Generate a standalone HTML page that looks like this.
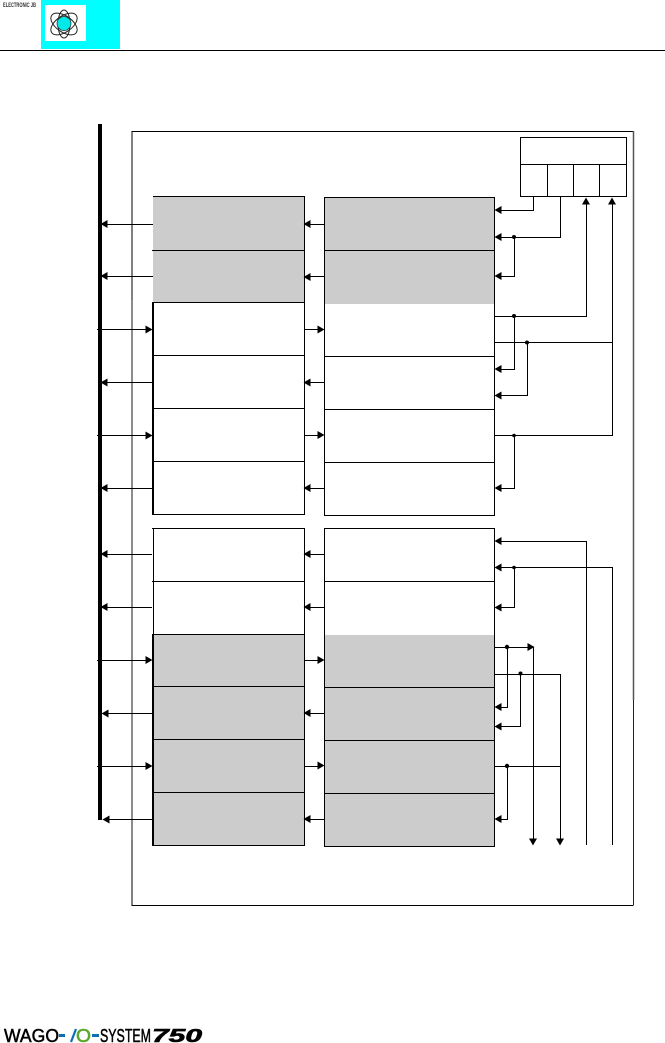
<!DOCTYPE html>
<html>
<head>
<meta charset="utf-8">
<style>
html,body{margin:0;padding:0;background:#fff;width:665px;height:1043px;overflow:hidden}
svg{display:block}
text{font-family:"Liberation Sans",sans-serif}
</style>
</head>
<body>
<svg width="665" height="1043" viewBox="0 0 665 1043" xmlns="http://www.w3.org/2000/svg">
<defs>
<polygon id="L" points="-0.5,0 6.5,-4 6.5,4" fill="#000"/>
<polygon id="R" points="0.5,0 -6.5,-4 -6.5,4" fill="#000"/>
<polygon id="U" points="0,-0.5 -4,6.5 4,6.5" fill="#000"/>
<polygon id="D" points="0,0.5 -4,-6.5 4,-6.5" fill="#000"/>
</defs>
<!-- header -->
<rect x="41" y="0" width="79" height="49" fill="#00ffff"/>
<rect x="45" y="5" width="41" height="36" fill="#fff"/>
<g fill="none" stroke="#222" stroke-width="1">
<ellipse cx="64" cy="24" rx="15" ry="8" transform="rotate(35 64 24)"/>
<ellipse cx="64" cy="24" rx="15" ry="8" transform="rotate(-35 64 24)"/>
<ellipse cx="64" cy="24" rx="6" ry="14"/>
</g>
<circle cx="64" cy="23.5" r="7" fill="#00e8e8" stroke="#222" stroke-width="0.7"/>
<text x="3" y="7" font-size="6.5" font-weight="bold" fill="#333" textLength="33" lengthAdjust="spacingAndGlyphs">ELECTRONIC JB</text>
<rect x="0" y="50" width="665" height="1" fill="#000"/>

<!-- gray fills -->
<g fill="#cccccc">
<rect x="153" y="196" width="151" height="106"/>
<rect x="324" y="197" width="171" height="107"/>
<rect x="153" y="634" width="151" height="212"/>
<rect x="324" y="635" width="171" height="211"/>
</g>

<!-- bus and frame -->
<rect x="98" y="124" width="4" height="696" fill="#000"/>
<g fill="none">
<path d="M132 300V131.5H633" stroke="#000" stroke-width="1"/>
<path d="M132 300V840" stroke="#666" stroke-width="1.5"/>
<path d="M132 840V905.5H633.5" stroke="#000" stroke-width="1"/>
<path d="M633.5 131V700" stroke="#555" stroke-width="1.5"/>
<path d="M633.5 700V905" stroke="#222" stroke-width="1"/>
</g>

<g stroke="#000" stroke-width="1" fill="none" shape-rendering="crispEdges">
<!-- left column upper -->
<path d="M153 196.5H305M152 250.5H305M152 302.5H305M153 355.5H305M153 408.5H305M153 461.5H305M152 514.5H305"/>
<path d="M304.5 196V515"/>
<!-- left column lower -->
<path d="M152 528.5H305M152 581.5H305M152 634.5H305M153 686.5H305M153 739.5H305M153 792.5H305M152 845.5H305"/>
<path d="M304.5 528V846M153.5 528V634"/>
<!-- right column upper -->
<path d="M324 197.5H495M324 250.5H495M324 356.5H495M324 409.5H495M324 462.5H495M324 515.5H495"/>
<path d="M324.5 197V516M494.5 197V516"/>
<!-- right column lower -->
<path d="M324 528.5H495M324 581.5H495M324 687.5H495M324 740.5H495M324 793.5H495M324 846.5H495"/>
<path d="M324.5 528V847M494.5 528V847"/>
<!-- top right box -->
<path d="M520.5 137V197M626.5 137V197M520 137.5H627M520 164.5H627M520 196.5H627M547.5 165V196M573.5 165V196M599.5 165V196"/>

<!-- inter-column lines -->
<path d="M103 224.5H153M103 276.5H153M97 329.5H147M103 382.5H153M97 435.5H147M103 488.5H153M103 554.5H152M103 607.5H152M97 660.5H147M103 713.5H153M97 766.5H147M103 819.5H153"/>
<path d="M306 224.5H325M306 276.5H325M304 329.5H318M306 382.5H325M304 435.5H318M306 488.5H325M306 554.5H325M306 607.5H325M304 660.5H318M306 713.5H325M304 766.5H318M306 819.5H325"/>

<!-- top right wiring -->
<path d="M533.5 197V210.5H497"/>
<path d="M560.5 197V237.5H497"/>
<path d="M514.5 237V276.5H497"/>
<path d="M586.5 200V316.5H494"/>
<path d="M514.5 316V369.5H497"/>
<path d="M612.5 200V435.5H494"/>
<path d="M494 342.5H612"/>
<path d="M527.5 343V395.5H497"/>
<path d="M514.5 436V488.5H497"/>
<!-- lower wiring -->
<path d="M497 541.5H586.5V845"/>
<path d="M497 567.5H612.5V845"/>
<path d="M514.5 568V607.5H497"/>
<path d="M494 647.5H530"/>
<path d="M533.5 647V840"/>
<path d="M507.5 648V707.5H497"/>
<path d="M494 674.5H560.5V840"/>
<path d="M520.5 675V726.5H497"/>
<path d="M494 766.5H560"/>
<path d="M507.5 767V819.5H497"/>
</g>

<!-- thick left edges -->
<rect x="152" y="302" width="2" height="213" fill="#000"/>
<rect x="152" y="634" width="2" height="212" fill="#000"/>

<!-- arrowheads bus side -->
<use href="#L" x="101" y="224"/>
<use href="#L" x="101" y="276"/>
<use href="#R" x="152" y="329.5"/>
<use href="#L" x="101" y="382.5"/>
<use href="#R" x="152" y="435.5"/>
<use href="#L" x="101" y="488"/>
<use href="#L" x="101" y="554"/>
<use href="#L" x="101" y="607"/>
<use href="#R" x="152" y="660"/>
<use href="#L" x="102" y="713.5"/>
<use href="#R" x="152" y="766"/>
<use href="#L" x="103" y="819.5"/>
<!-- arrowheads middle -->
<use href="#L" x="304" y="224"/>
<use href="#L" x="304" y="277"/>
<use href="#R" x="324" y="329.5"/>
<use href="#L" x="304" y="382.5"/>
<use href="#R" x="324" y="435"/>
<use href="#L" x="304" y="488"/>
<use href="#L" x="304" y="554"/>
<use href="#L" x="304" y="607"/>
<use href="#R" x="324" y="660"/>
<use href="#L" x="304" y="713"/>
<use href="#R" x="324" y="765.5"/>
<use href="#L" x="304" y="819"/>
<!-- arrowheads right -->
<use href="#L" x="495" y="210"/>
<use href="#L" x="495" y="237"/>
<use href="#L" x="495" y="276"/>
<use href="#L" x="495" y="369"/>
<use href="#L" x="495" y="395.5"/>
<use href="#L" x="495" y="488"/>
<use href="#L" x="495" y="541"/>
<use href="#L" x="495" y="567.5"/>
<use href="#L" x="495" y="607.5"/>
<use href="#L" x="495" y="707"/>
<use href="#L" x="495" y="726.5"/>
<use href="#L" x="495" y="819"/>
<use href="#U" x="586" y="198"/>
<use href="#U" x="612" y="198"/>
<use href="#R" x="534" y="647"/>
<use href="#D" x="533" y="845"/>
<use href="#D" x="560" y="845"/>

<!-- junction dots -->
<g fill="#000">
<circle cx="514" cy="237" r="2"/>
<circle cx="514" cy="316" r="2"/>
<circle cx="527" cy="342.5" r="2"/>
<circle cx="514" cy="435.5" r="1.8"/>
<circle cx="514" cy="567.5" r="1.8"/>
<circle cx="507" cy="647" r="2.2"/>
<circle cx="520.5" cy="673.5" r="2"/>
<circle cx="507" cy="766" r="2.2"/>
</g>

<!-- footer logo -->
<text x="4" y="1042" font-size="18" fill="#000" stroke="#000" stroke-width="0.5" textLength="55" lengthAdjust="spacingAndGlyphs">WAGO</text>
<rect x="59" y="1034" width="6" height="3" fill="#0a6fb5"/>
<path d="M71 1042L76 1029" stroke="#0a6fb5" stroke-width="2.2" fill="none"/>
<text x="76" y="1042" font-size="18" fill="#5aa82a" stroke="#5aa82a" stroke-width="0.6" textLength="15" lengthAdjust="spacingAndGlyphs">O</text>
<rect x="92" y="1034" width="7" height="3" fill="#0a6fb5"/>
<text x="100" y="1042" font-size="18" fill="#000" stroke="#000" stroke-width="0.5" textLength="51" lengthAdjust="spacingAndGlyphs">SYSTEM</text>
<text x="152" y="1042" font-size="18" font-weight="bold" font-style="italic" fill="#000" stroke="#000" stroke-width="0.6" textLength="50" lengthAdjust="spacingAndGlyphs">750</text>
</svg>
</body>
</html>
